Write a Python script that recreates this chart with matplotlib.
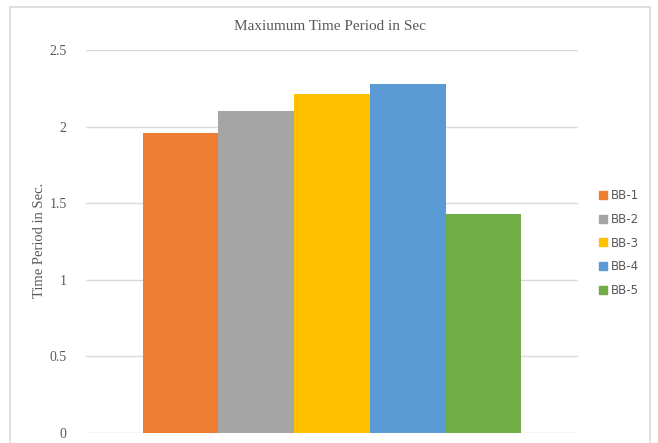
import matplotlib
matplotlib.use("Agg")
import matplotlib.pyplot as plt
from matplotlib.patches import Rectangle
from matplotlib.lines import Line2D

series = ["BB-1", "BB-2", "BB-3", "BB-4", "BB-5"]
values = [1.96, 2.10, 2.21, 2.28, 1.43]
colors = ["#ED7D31", "#A5A5A5", "#FFC000", "#5B9BD5", "#70AD47"]
yticks = [0, 0.5, 1, 1.5, 2, 2.5]
ytick_labels = ["0", "0.5", "1", "1.5", "2", "2.5"]

W, H = 658, 443
fig = plt.figure(figsize=(W / 100, H / 100), dpi=100)
fig.patch.set_facecolor("white")

# chart frame
fig.add_artist(Rectangle((10 / W, -0.05), 640 / W, (H - 7) / H + 0.05,
                         transform=fig.transFigure, fill=False,
                         edgecolor="#D9D9D9", linewidth=1.2))

ax = fig.add_axes([86 / W, (H - 433) / H, 492 / W, 383 / H])
x = list(range(len(series)))
ax.bar(x, values, width=1.0, color=colors, zorder=2)
ax.set_xlim(-0.5 - 0.75, len(series) - 0.5 + 0.75)
ax.set_ylim(0, 2.5)
ax.set_yticks(yticks)
ax.set_yticklabels(ytick_labels, fontfamily="Liberation Serif", fontsize=10, color="#595959")
ax.set_xticks([])
ax.yaxis.grid(True, color="#D9D9D9", linewidth=1.0, zorder=0)
ax.tick_params(axis="y", length=0, pad=14)
for s in ax.spines.values():
    s.set_visible(False)

ax.set_ylabel("Time Period in Sec.", fontfamily="Liberation Serif", fontsize=10.5,
              color="#595959")
ax.yaxis.set_label_coords((46 - 86) / 492, (433 - 240) / 383)
fig.text(330 / W, 1 - 27 / H, "Maxiumum Time Period in Sec", ha="center", va="center",
         fontfamily="Liberation Serif", fontsize=11, color="#595959")

handles = [Line2D([0], [0], marker="s", linestyle="none", markersize=6,
                  markerfacecolor=c, markeredgecolor=c) for c in colors]
fig.legend(handles, series, loc="center left", bbox_to_anchor=(592 / W, 1 - 243 / H),
           frameon=False, fontsize=8.5, labelcolor="#595959", handlelength=0.8,
           handletextpad=0.3, labelspacing=0.9, borderpad=0)

fig.savefig("out.png", dpi=100)
